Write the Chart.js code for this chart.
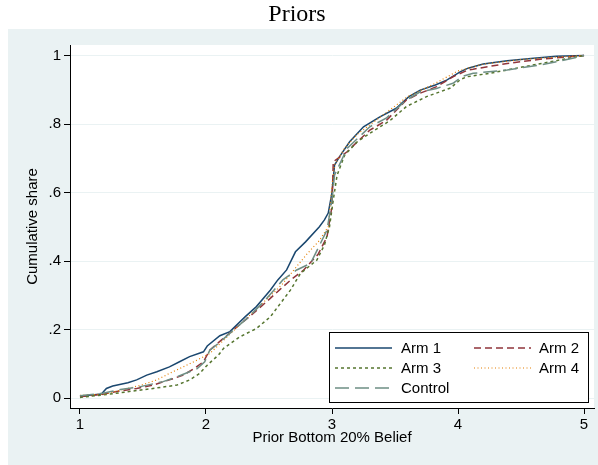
<!DOCTYPE html>
<html>
<head>
<meta charset="utf-8">
<script src="https://cdn.jsdelivr.net/npm/chart.js@4/dist/chart.umd.min.js"></script>
<style>
  html, body { margin: 0; padding: 0; background: #ffffff; }
  #wrap { width: 598px; height: 465px; position: relative; }
</style>
</head>
<body>
<div id="wrap"><canvas id="c" width="598" height="465"></canvas></div>
<script>
// ---- Data ----
const seriesNames = ["Arm 1", "Arm 2", "Arm 3", "Arm 4", "Control"];

const arm1X = [1.00,1.17,1.21,1.26,1.38,1.45,1.53,1.61,1.71,1.79,1.87,1.98,2.01,2.11,2.19,2.31,2.40,2.51,2.57,2.64,2.71,2.79,2.90,2.94,2.97,3.00,3.02,3.06,3.14,3.25,3.38,3.51,3.61,3.70,3.82,3.91,4.02,4.08,4.20,4.39,4.60,4.78,5.00];
const arm1Y = [0.005,0.012,0.028,0.035,0.045,0.053,0.067,0.077,0.091,0.106,0.121,0.135,0.152,0.182,0.194,0.237,0.267,0.315,0.345,0.374,0.427,0.456,0.500,0.520,0.540,0.600,0.680,0.705,0.748,0.792,0.821,0.846,0.880,0.899,0.914,0.928,0.953,0.963,0.975,0.985,0.992,0.998,1.000];

const arm2X = [1.00,1.18,1.32,1.45,1.58,1.71,1.82,1.91,1.98,2.03,2.14,2.27,2.40,2.51,2.59,2.68,2.77,2.89,2.96,3.00,3.01,3.12,3.20,3.30,3.43,3.59,3.70,3.83,3.96,4.08,4.12,4.39,4.65,5.00];
const arm2Y = [0.004,0.011,0.021,0.028,0.038,0.053,0.067,0.087,0.106,0.140,0.175,0.215,0.255,0.291,0.318,0.347,0.372,0.420,0.470,0.560,0.690,0.719,0.748,0.782,0.810,0.870,0.890,0.909,0.938,0.958,0.960,0.977,0.989,1.000];

const arm3X = [1.00,1.18,1.37,1.58,1.77,1.87,1.95,2.01,2.10,2.14,2.27,2.40,2.51,2.59,2.67,2.75,2.88,2.94,2.98,3.01,3.04,3.10,3.20,3.30,3.46,3.59,3.75,3.94,4.02,4.07,4.25,4.52,4.78,5.00];
const arm3Y = [0.002,0.009,0.018,0.028,0.038,0.053,0.072,0.096,0.126,0.145,0.179,0.203,0.237,0.276,0.315,0.364,0.403,0.447,0.500,0.578,0.650,0.709,0.748,0.773,0.810,0.851,0.880,0.905,0.930,0.938,0.948,0.967,0.985,1.000];

const arm4X = [1.00,1.20,1.40,1.49,1.61,1.71,1.82,1.93,2.03,2.20,2.40,2.60,2.80,2.90,2.97,3.00,3.02,3.10,3.20,3.40,3.60,3.80,4.00,4.20,4.50,4.80,5.00];
const arm4Y = [0.008,0.012,0.030,0.038,0.053,0.072,0.091,0.111,0.130,0.190,0.260,0.330,0.420,0.460,0.500,0.620,0.680,0.730,0.770,0.825,0.880,0.915,0.955,0.975,0.988,0.996,1.000];

const ctrlX = [1.00,1.18,1.32,1.45,1.66,1.77,1.93,1.99,2.03,2.10,2.22,2.34,2.47,2.61,2.72,2.83,2.96,3.00,3.02,3.12,3.30,3.43,3.59,3.70,3.83,3.96,4.04,4.12,4.39,4.65,4.91,5.00];
const ctrlY = [0.007,0.014,0.025,0.031,0.048,0.062,0.086,0.106,0.140,0.160,0.199,0.237,0.286,0.345,0.374,0.393,0.490,0.578,0.651,0.729,0.792,0.817,0.870,0.894,0.904,0.919,0.940,0.948,0.958,0.972,0.992,1.000];

const xTickValues = [1, 2, 3, 4, 5];
const xTickLabels = ["1", "2", "3", "4", "5"];
const yTickValues = [0, 0.2, 0.4, 0.6, 0.8, 1];
const yTickLabels = ["0", ".2", ".4", ".6", ".8", "1"];

// ---- Styles ----
const colors = ["#1a476f", "#90353b", "#55752f", "#e37e00", "#6e8e84"];
const dashes = [[], [7, 4], [3, 3], [1, 2.5], [14, 6]];
const widths = [1.5, 1.5, 1.5, 1.2, 1.5];
const SANS = "'Liberation Sans', Arial, Helvetica, sans-serif";

const xs = [arm1X, arm2X, arm3X, arm4X, ctrlX];
const ys = [arm1Y, arm2Y, arm3Y, arm4Y, ctrlY];

function pts(xa, ya) { return xa.map((x, i) => ({ x: x, y: ya[i] })); }

const datasets = seriesNames.map((name, i) => ({
  label: name,
  data: pts(xs[i], ys[i]),
  borderColor: colors[i],
  backgroundColor: colors[i],
  borderWidth: widths[i],
  borderDash: dashes[i],
  pointRadius: 0,
  tension: 0,
  fill: false,
  order: 4 - i
}));

const bgPlugin = {
  id: 'bgPlugin',
  beforeDraw(chart) {
    const ctx = chart.ctx, a = chart.chartArea;
    ctx.save();
    ctx.fillStyle = '#ffffff';
    ctx.fillRect(0, 0, chart.width, chart.height);
    ctx.fillStyle = '#eaf2f3';
    ctx.fillRect(8, 29, chart.width - 8, chart.height - 29);
    ctx.fillStyle = '#ffffff';
    ctx.fillRect(a.left, a.top, a.right - a.left, a.bottom - a.top);
    ctx.restore();
  }
};

const legendPlugin = {
  id: 'boxLegend',
  afterDatasetsDraw(chart) {
    const ctx = chart.ctx;
    const box = { x: 329.5, y: 332.5, w: 259, h: 70 };
    ctx.save();
    ctx.fillStyle = '#ffffff';
    ctx.fillRect(box.x, box.y, box.w, box.h);
    ctx.strokeStyle = '#000000';
    ctx.lineWidth = 1;
    ctx.setLineDash([]);
    ctx.strokeRect(box.x, box.y, box.w, box.h);
    const cols = [{ l0: 335, l1: 392, tx: 401 }, { l0: 474, l1: 531, tx: 539 }];
    const rows = [348, 368, 388];
    ctx.font = "15px " + SANS;
    ctx.textBaseline = 'middle';
    ctx.textAlign = 'left';
    chart.data.datasets.forEach((ds, i) => {
      const c = cols[i % 2], r = rows[Math.floor(i / 2)];
      ctx.strokeStyle = ds.borderColor;
      ctx.lineWidth = ds.borderWidth;
      ctx.setLineDash(ds.borderDash);
      ctx.beginPath();
      ctx.moveTo(c.l0, r);
      ctx.lineTo(c.l1, r);
      ctx.stroke();
      ctx.setLineDash([]);
      ctx.fillStyle = '#000000';
      ctx.fillText(ds.label, c.tx, r + 1);
    });
    ctx.restore();
  }
};

new Chart(document.getElementById('c'), {
  type: 'line',
  data: { datasets: datasets },
  options: {
    responsive: false,
    animation: false,
    devicePixelRatio: 1,
    layout: { padding: { left: 0, right: 4, top: 0, bottom: 0 } },
    plugins: {
      legend: { display: false },
      tooltip: { enabled: false },
      title: {
        display: true,
        text: 'Priors',
        color: '#000000',
        font: { family: "'Liberation Serif', 'Times New Roman', serif", size: 24, weight: 'normal' },
        padding: { top: 0, bottom: 16.2 }
      }
    },
    scales: {
      x: {
        type: 'linear',
        min: 0.921,
        max: 5.079,
        afterFit(scale) { scale.height = 57; },
        afterBuildTicks(scale) { scale.ticks = xTickValues.map(v => ({ value: v })); },
        ticks: {
          autoSkip: false,
          maxRotation: 0,
          color: '#000000',
          padding: 2,
          font: { family: SANS, size: 15 },
          callback: (v, i) => xTickLabels[i]
        },
        grid: { drawOnChartArea: false, drawTicks: true, tickLength: 6, tickColor: '#000000', tickWidth: 1 },
        border: { display: true, color: '#000000', width: 1 },
        title: {
          display: true,
          text: 'Prior Bottom 20% Belief',
          color: '#000000',
          font: { family: SANS, size: 15 },
          padding: { top: 0, bottom: 18 }
        }
      },
      y: {
        type: 'linear',
        min: -0.029,
        max: 1.0307,
        afterFit(scale) { scale.width = 70; },
        afterBuildTicks(scale) { scale.ticks = yTickValues.map(v => ({ value: v })); },
        ticks: {
          autoSkip: false,
          color: '#000000',
          padding: 3,
          font: { family: SANS, size: 15 },
          callback: (v, i) => yTickLabels[i]
        },
        grid: { drawOnChartArea: true, color: '#eaf2f3', lineWidth: 1, drawTicks: true, tickLength: 6, tickColor: '#000000', tickWidth: 1 },
        border: { display: true, color: '#000000', width: 1 },
        title: {
          display: true,
          text: 'Cumulative share',
          color: '#000000',
          font: { family: SANS, size: 15 },
          padding: { top: 24, bottom: 0 }
        }
      }
    }
  },
  plugins: [bgPlugin, legendPlugin]
});
</script>
</body>
</html>
